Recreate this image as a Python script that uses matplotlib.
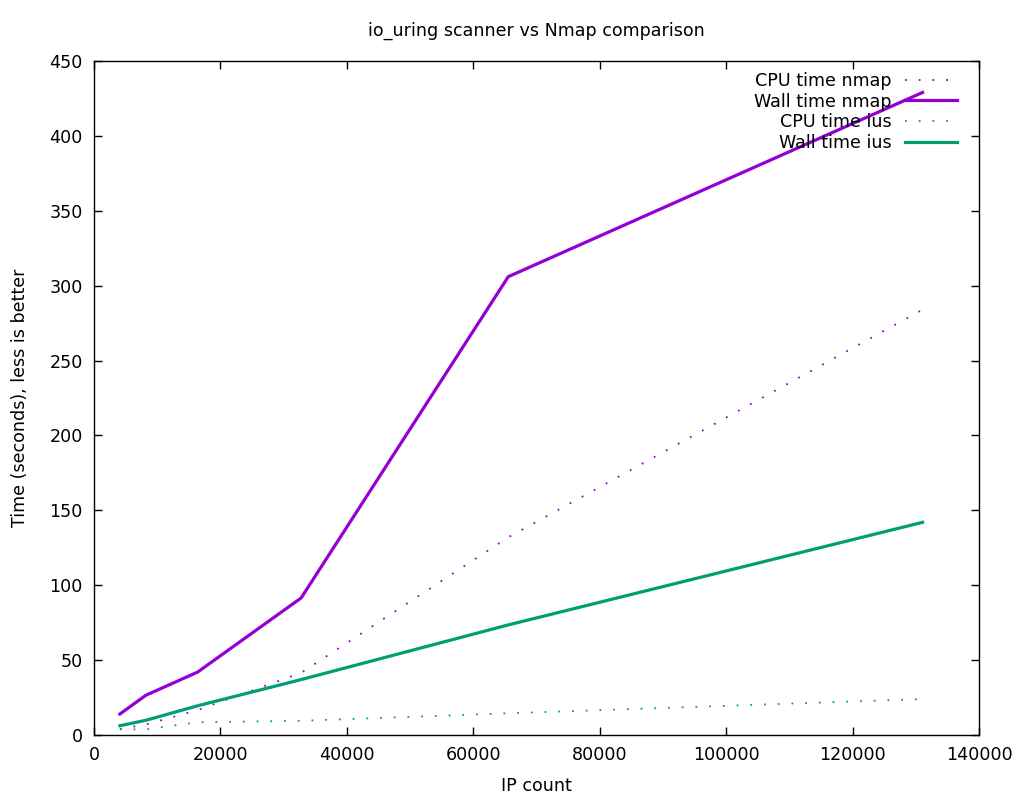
import matplotlib
matplotlib.use("Agg")
from matplotlib import pyplot as plt
from matplotlib.ticker import MultipleLocator

# IP counts probed in each run
ip_count = [4096, 8192, 16384, 32768, 65536, 131072]

# timings (seconds)
cpu_nmap = [4, 7, 16.6, 41.5, 132, 284]
wall_nmap = [14, 26.5, 42, 91.5, 306, 429]
cpu_ius = [3.8, 3.7, 8.5, 9.5, 14.5, 24]
wall_ius = [6.2, 9.8, 19.5, 37, 73.5, 142]

purple = "#9400d3"
green = "#009e73"

plt.rcParams["font.family"] = "DejaVu Sans"
fs = 12.6

fig = plt.figure(figsize=(10.24, 8), dpi=100)
ax = fig.add_axes([94/1024, 65/800, 885/1024, 674/800])

ax.plot(ip_count, cpu_nmap, color=purple, lw=1.3, ls=(0, (1, 6.6)), label="CPU time nmap")
ax.plot(ip_count, wall_nmap, color=purple, lw=2.3, label="Wall time nmap")
ax.plot(ip_count, cpu_ius, color=green, lw=1.3, ls=(0, (1, 6.6)), label="CPU time ius")
ax.plot(ip_count, wall_ius, color=green, lw=2.3, label="Wall time ius")

ax.set_xlim(0, 140000)
ax.set_ylim(0, 450)
ax.xaxis.set_major_locator(MultipleLocator(20000))
ax.yaxis.set_major_locator(MultipleLocator(50))
ax.tick_params(direction="in", length=6, width=1, top=True, right=True, labelsize=fs, pad=8)
for s in ax.spines.values():
    s.set_linewidth(1)

ax.set_xlabel("IP count", fontsize=fs, labelpad=9)
ax.set_ylabel("Time (seconds), less is better", fontsize=fs, labelpad=15)
fig.text(536/1024, 1 - 31/800, "io_uring scanner vs Nmap comparison", ha="center", va="center", fontsize=fs)

# legend in the gnuplot way: text right aligned, sample on the right
leg = ax.legend(loc="upper right", bbox_to_anchor=(1 - 8/885, 1 + 3/674), frameon=False,
                markerfirst=False, handlelength=3.0, labelspacing=0.15, fontsize=fs,
                borderaxespad=0.5, borderpad=0.3, handletextpad=0.75)

fig.savefig("out.png", dpi=100, facecolor="white")
